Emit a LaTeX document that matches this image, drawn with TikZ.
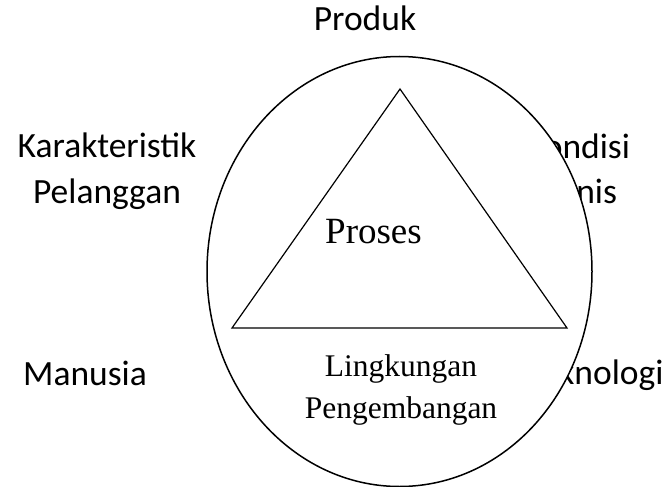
\documentclass[tikz,border=0pt]{standalone}
\usepackage{fontspec}
\setmainfont{Liberation Serif}
\newfontfamily\calfont{Carlito}
\usetikzlibrary{positioning}

\begin{document}
\begin{tikzpicture}[x=1pt, y=-1pt, every node/.style={inner sep=0pt, outer sep=0pt}]
\tikzstyle{outertxt}=[anchor=base, font=\calfont\fontsize{35.5}{43}\selectfont]
\tikzstyle{innertxt}=[anchor=base, font=\fontsize{31.5}{42}\selectfont]
\useasboundingbox (0,0) rectangle (669,487);
% labels around the circle
\node[outertxt] (prod) at (365,31) {Produk};
\node[outertxt] (kar) at (107,157) {Karakteristik};
\node[outertxt] (pel) at (107,203) {Pelanggan};
\node[outertxt] (kon) at (578,158) {Kondisi};
\node[outertxt] (bis) at (576,203) {Bisnis};
\node[outertxt] (man) at (85,385) {Manusia};
\node[outertxt] (tek) at (595,384) {Teknologi};
% circle and triangle
\draw[line width=1.5pt, fill=white] (399.5,271.5) ellipse [x radius=192.5, y radius=215];
\coordinate (top) at (400,89);
\coordinate (bl) at (232,328);
\coordinate (br) at (567,328);
\draw[line width=1.2pt, line join=miter] (top) -- (br) -- (bl) -- cycle;
\node[anchor=base, font=\fontsize{37}{44}\selectfont] (pro) at (373.5,243) {Proses};
\node[innertxt] (lin) at (401,376) {Lingkungan};
\node[innertxt] (pen) at (401,418) {Pengembangan};
\end{tikzpicture}
\end{document}
